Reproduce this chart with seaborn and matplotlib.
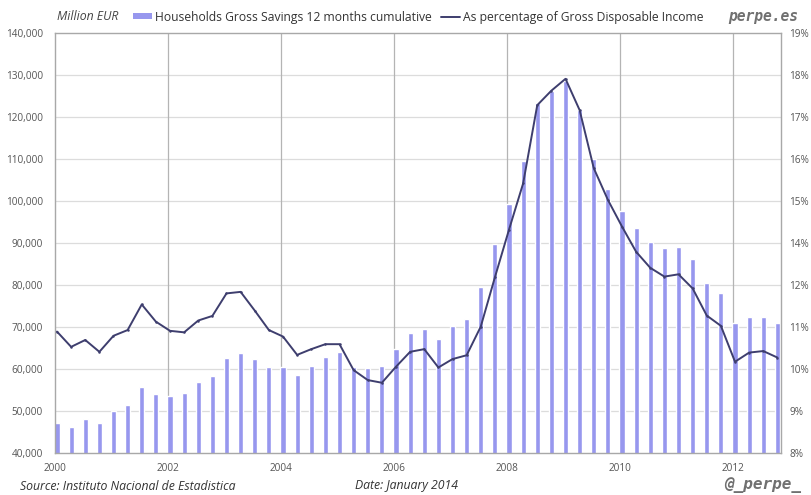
import matplotlib
matplotlib.use("Agg")
import matplotlib.pyplot as plt
import seaborn as sns
import pandas as pd
from matplotlib.patches import Patch
from matplotlib.lines import Line2D

# ---- data (quarterly, 2000Q1 .. 2012Q4) ----
years = list(range(2000, 2013))
quarters = [f"{y}Q{q}" for y in years for q in range(1, 5)]
savings = [47200, 46300, 48000, 47200, 50100, 51400, 55600, 54000, 53600, 54400, 56800, 58400,
           62500, 63900, 62300, 60400, 60400, 58600, 60800, 62800, 64100, 60400, 60300, 60800,
           64800, 68500, 69600, 67200, 70300, 72000, 79600, 89800, 99300, 109500, 123300, 126300,
           128600, 121700, 110000, 102800, 97500, 93500, 90300, 88700, 89000, 86100, 80500, 78000,
           70900, 72300, 72300, 70900]
pct_income = [11.18, 10.78, 10.96, 10.65, 11.07, 11.22, 11.89, 11.44, 11.20, 11.16, 11.47, 11.59,
              12.18, 12.22, 11.73, 11.22, 11.05, 10.57, 10.72, 10.85, 10.85, 10.17, 9.91, 9.84,
              10.26, 10.65, 10.72, 10.24, 10.46, 10.56, 11.31, 12.60, 13.85, 15.06, 17.11, 17.49,
              17.80, 16.98, 15.46, 14.63, 13.93, 13.27, 12.85, 12.62, 12.68, 12.31, 11.60, 11.33,
              10.39, 10.63, 10.67, 10.50]
left_ticks = [40000, 50000, 60000, 70000, 80000, 90000, 100000, 110000, 120000, 130000, 140000]
right_tick_labels = ["8%", "9%", "10%", "11%", "12%", "14%", "15%", "16%", "17%", "18%", "19%"]
x_tick_years = [2000, 2002, 2004, 2006, 2008, 2010, 2012]

bar_label = "Households Gross Savings 12 months cumulative"
line_label = "As percentage of Gross Disposable Income"

# time position of each quarter (decimal year)
t = [int(q[:4]) + (int(q[-1]) - 1) / 4 + 0.03 for q in quarters]
df = pd.DataFrame({"t": t, "savings": savings, "pct": pct_income})

sns.set_style("white")
plt.rcParams["font.family"] = ["Open Sans", "DejaVu Sans"]

BAR_C = "#9797ee"
LINE_C = "#3e3e6e"
TXT_C = "#555555"

fig = plt.figure(figsize=(8.11, 4.95), dpi=100)
ax = fig.add_axes([55.3 / 811, 1 - 453 / 495, (781 - 55.3) / 811, (453 - 33) / 495])

sns.barplot(data=df, x="t", y="savings", native_scale=True, width=0.36,
            color=BAR_C, saturation=1, ax=ax, zorder=2)
ax.set_xlim(2000, 2012.844)
ax.set_ylim(40000, 140000)
ax.set_yticks(left_ticks)
ax.set_yticklabels([f"{v:,}" for v in left_ticks])
ax.set_xticks(x_tick_years)
ax.set_xticklabels([str(y) for y in x_tick_years])
ax.set_xlabel("")
ax.set_ylabel("")
ax.grid(False)
for v in left_ticks[1:-1]:
    ax.axhline(v, color="#dcdcdc", lw=0.9, zorder=0)
for y in x_tick_years[1:]:
    ax.axvline(y, color="#b4b4b4", lw=0.9, zorder=0)
ax.tick_params(axis="both", length=0, labelsize=7.2, colors=TXT_C)
ax.tick_params(axis="x", pad=7)
ax.tick_params(axis="y", pad=9)
for s in ax.spines.values():
    s.set_color("#a8a8a8")
    s.set_linewidth(1.0)

ax2 = ax.twinx()
sns.lineplot(data=df, x="t", y="pct", ax=ax2, color=LINE_C, lw=1.4,
             marker="o", markersize=1.8, markeredgewidth=0, zorder=3)
ax2.set_ylim(8, 19)
ax2.set_yticks([8 + 1.1 * k for k in range(11)])
ax2.set_yticklabels(right_tick_labels)
ax2.set_ylabel("")
ax2.set_xlabel("")
ax2.tick_params(axis="y", length=0, labelsize=7.2, colors=TXT_C, pad=6)
for s in ax2.spines.values():
    s.set_visible(False)
ax2.set_xlim(2000, 2012.844)

# header
fig.text(57 / 811, 1 - 17 / 495, "Million EUR", fontsize=8.8, style="italic",
         color="#444444", va="center", ha="left")
handles = [Patch(facecolor=BAR_C, edgecolor="none"),
           Line2D([0], [0], color=LINE_C, lw=1.4)]
fig.legend(handles, [bar_label, line_label], loc="center left",
           bbox_to_anchor=(122 / 811, 1 - 17 / 495), ncol=2, frameon=False,
           fontsize=8.7, handlelength=1.6, handleheight=0.45, handletextpad=0.2,
           columnspacing=0.8, labelcolor="#333333")
fig.text(798 / 811, 1 - 16 / 495, "perpe.es", fontsize=10.5, fontweight="bold",
         style="italic", family="DejaVu Sans Mono", color="#707070",
         va="center", ha="right")

# footer
fig.text(20 / 811, 1 - 486 / 495, "Source: Instituto Nacional de Estadistica",
         fontsize=8.8, style="italic", color="#333333", va="center", ha="left")
fig.text(355 / 811, 1 - 486 / 495, "Date: January 2014",
         fontsize=8.8, style="italic", color="#333333", va="center", ha="left")
fig.text(801 / 811, 1 - 485 / 495, "@_perpe_", fontsize=11.5, fontweight="bold",
         style="italic", family="DejaVu Sans Mono", color="#707070",
         va="center", ha="right")

fig.savefig("out.png", dpi=100)
